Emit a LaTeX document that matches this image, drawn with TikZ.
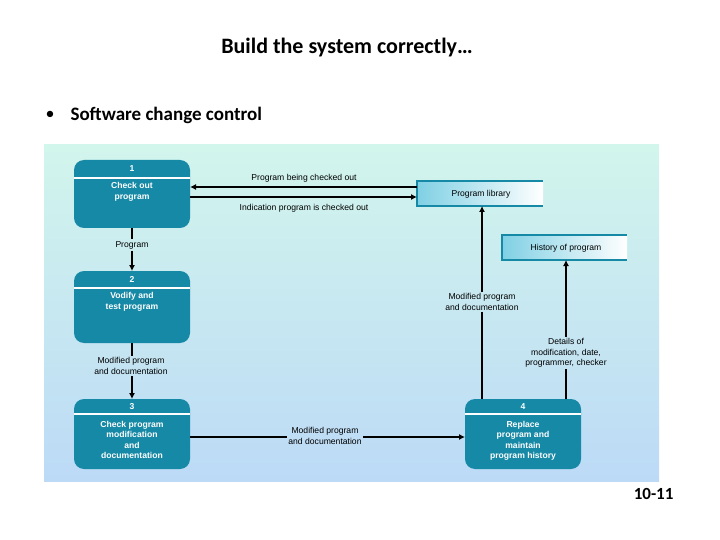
\documentclass[tikz,border=0pt]{standalone}
\usepackage{fontspec}
\setmainfont{Carlito}
\newfontfamily\dfont{Liberation Sans}
\usetikzlibrary{arrows.meta}
\definecolor{teal1}{HTML}{1689A6}
\definecolor{mint}{HTML}{D2F5EC}
\definecolor{sky}{HTML}{BCDAF6}
\definecolor{libt}{HTML}{7FD0E4}
\tikzset{
 proc/.style={fill=teal1,rounded corners=10pt},
 ptxt/.style={text=white,font=\dfont\bfseries\fontsize{8.6}{10.5}\selectfont,align=center,inner sep=1pt},
 lbl/.style={font=\dfont\fontsize{8.6}{10.3}\selectfont,align=center,inner sep=1.5pt},
 flow/.style={line width=1.1pt,-{Latex[length=6pt,width=6pt]}},
 line/.style={line width=1.1pt}
}
\begin{document}
\begin{tikzpicture}[x=1pt,y=-1pt]
\useasboundingbox (0,0) rectangle (720,540);
\fill[white] (0,0) rectangle (720,540);
\node[font=\bfseries\fontsize{22}{26}\selectfont] (title) at (347,48) {Build the system correctly…};
\node[anchor=west,font=\fontsize{18}{22}\selectfont] (bul) at (42,115) {•};
\node[anchor=west,font=\bfseries\fontsize{19}{22}\selectfont] (bult) at (67,115) {Software change control};
\node[anchor=east,font=\bfseries\fontsize{17}{20}\selectfont] (pg) at (677,494) {10-11};
\shade[top color=mint,bottom color=sky] (44,145) rectangle (659,481);
% process boxes
\foreach \n/\x/\yt/\yb/\yh/\num in {p1/74/160/228/178/1,p2/74/271/343/288/2,p3/74/399/469/414/3,p4/465/399/469/414/4}{
  \pgfmathsetmacro{\xr}{\x+116}
  \pgfmathsetmacro{\xm}{\x+58}
  \pgfmathsetmacro{\ym}{(\yt+\yh)/2}
  \fill[proc] (\x,\yt) rectangle (\xr,\yb);
  \draw[white,line width=1.2pt] (\x,\yh) -- (\xr,\yh);
  \node[ptxt] (h\n) at (\xm,\ym) {\num};
}
\node[ptxt] (t1) at (132,192) {Check out\\program};
\node[ptxt] (t2) at (132,302) {Vodify and\\test program};
\node[ptxt] (t3) at (132,440) {Check program\\modification\\and\\documentation};
\node[ptxt] (t4) at (523,441) {Replace\\program and\\maintain\\program history};
\coordinate (p1b) at (132,228); \coordinate (p2t) at (132,271);
\coordinate (p2b) at (132,343); \coordinate (p3t) at (132,399);
% stores
\shade[left color=libt,right color=white] (417,181) rectangle (543,206);
\draw[teal1,line width=1.5pt] (543,181) -- (417,181) -- (417,206) -- (543,206);
\node[lbl] (lib) at (481,194) {Program library};
\shade[left color=libt,right color=white] (502,235) rectangle (627,260);
\draw[teal1,line width=1.5pt] (627,235) -- (502,235) -- (502,260) -- (627,260);
\node[lbl] (hist) at (566,248) {History of program};
% flows
\coordinate (a1) at (417,187); \coordinate (a2) at (190,187);
\coordinate (a3) at (190,197); \coordinate (a4) at (417,197);
\draw[flow] (a1) -- (a2);
\draw[flow] (a3) -- (a4);
\node[lbl] (l1) at (304,178) {Program being checked out};
\node[lbl] (l2) at (304,208) {Indication program is checked out};
\node[lbl] (l3) at (132,245) {Program};
\draw[line] (p1b) -- (p1b |- l3.north);
\draw[flow] (p2t |- l3.south) -- (p2t);
\node[lbl] (l4) at (131,366) {Modified program\\and documentation};
\draw[line] (p2b) -- (p2b |- l4.north);
\draw[flow] (p3t |- l4.south) -- (p3t);
\node[lbl] (l5) at (325,436) {Modified program\\and documentation};
\coordinate (p3r) at (190,437); \coordinate (p4l) at (465,437);
\draw[line] (p3r) -- (p3r -| l5.west);
\draw[flow] (p4l -| l5.east) -- (p4l);
\node[lbl] (l6) at (482,302) {Modified program\\and documentation};
\coordinate (p4a) at (482,399); \coordinate (liba) at (482,206);
\draw[line] (p4a) -- (p4a |- l6.south);
\draw[flow] (liba |- l6.north) -- (liba);
\node[lbl] (l7) at (566,353) {Details of\\modification, date,\\programmer, checker};
\coordinate (p4b) at (566,399); \coordinate (hista) at (566,260);
\draw[line] (p4b) -- (p4b |- l7.south);
\draw[flow] (hista |- l7.north) -- (hista);
\end{tikzpicture}
\end{document}
